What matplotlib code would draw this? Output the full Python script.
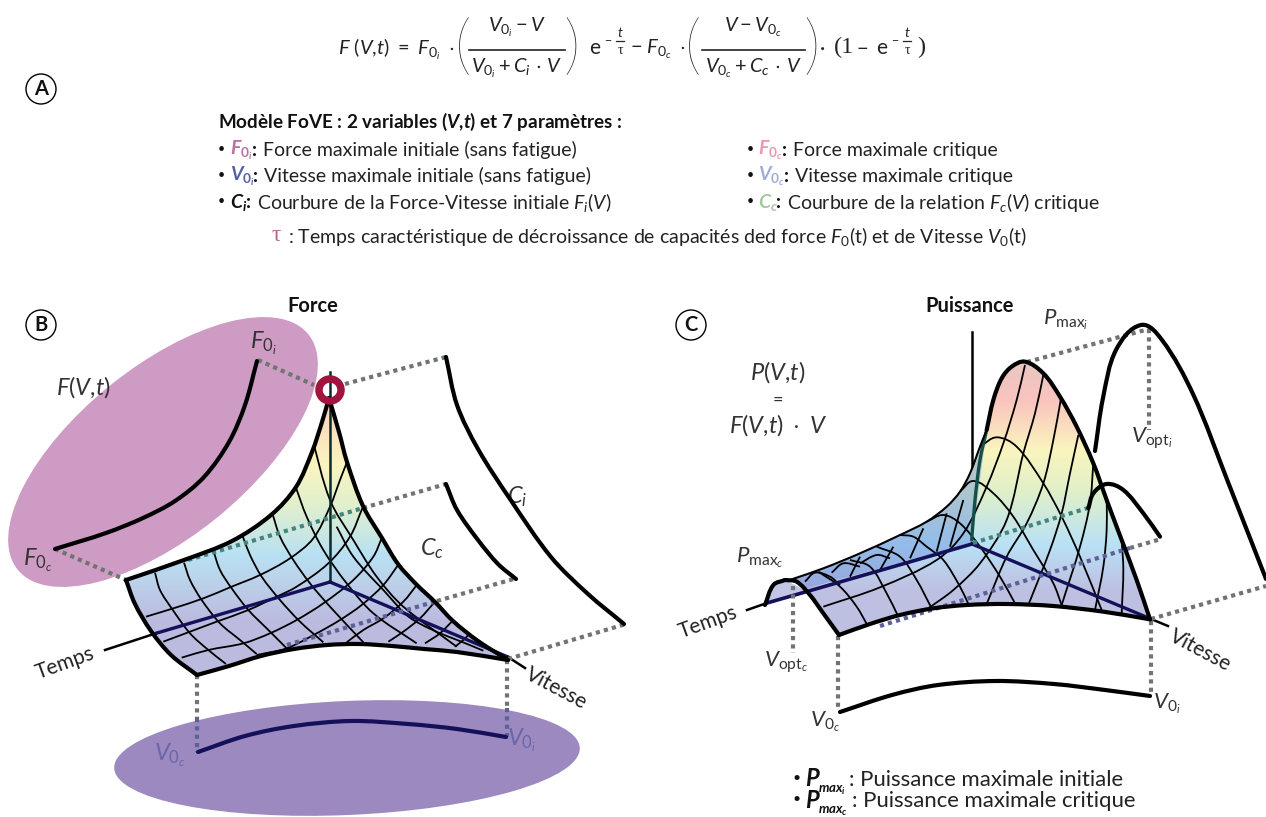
import matplotlib
matplotlib.use("Agg")
import matplotlib.pyplot as plt
import numpy as np
from matplotlib.patches import Circle, Ellipse, PathPatch
from matplotlib.path import Path

plt.rcParams['font.family'] = ['Lato', 'DejaVu Sans']
plt.rcParams['mathtext.fontset'] = 'custom'
plt.rcParams['mathtext.rm'] = 'Lato'
plt.rcParams['mathtext.it'] = 'Lato:italic'
plt.rcParams['mathtext.bf'] = 'Lato:bold'
plt.rcParams['mathtext.bfit'] = 'Lato:italic:bold'
plt.rcParams['mathtext.fallback'] = 'stix'

# panel B, read in picture pixels
b_left_top = [(126, 580), (184, 560), (232, 541), (271, 515), (296, 487), (312, 452), (322, 422), (329, 398)]
b_apex_right = [(329, 398), (339, 432), (347, 462), (363, 506), (382, 538), (398, 564), (416, 584), (435, 602),
                (453, 621), (478, 641), (508, 660)]
b_front = [(197, 675), (229, 666), (261, 656), (294, 649), (327, 645), (359, 644), (392, 646), (424, 649),
           (457, 652), (508, 660)]
b_left_front = [(126, 580), (135, 604), (151, 631), (171, 655), (197, 675)]
b_force_curve = [(55, 549), (106, 533), (143, 518), (175, 501), (204, 477), (229, 442), (245, 405), (257, 361)]
b_ci_curve = [(446, 357), (457, 405), (478, 449), (510, 499), (551, 557), (588, 594), (624, 624)]
b_cc_curve = [(446, 484), (457, 510), (478, 540), (498, 564), (516, 579)]
b_speed_curve = [(198, 752), (245, 736), (294, 726), (351, 721), (408, 724), (457, 729), (506, 737)]

# grid of panel B, read in the 3x crop at (120, 480)
b_grid = [
    [(105, 278), (120, 330), (155, 385), (210, 460), (265, 510), (318, 552)],
    [(192, 248), (210, 300), (245, 360), (300, 430), (360, 480), (410, 522)],
    [(280, 212), (300, 270), (335, 325), (385, 390), (445, 450), (500, 505)],
    [(368, 168), (390, 225), (425, 290), (480, 360), (540, 425), (610, 487)],
    [(457, 100), (480, 170), (520, 240), (570, 310), (630, 380), (730, 487)],
    [(525, 15), (560, 110), (610, 210), (680, 310), (760, 400), (890, 490)],
    [(575, -130), (630, 60), (700, 180), (770, 290), (850, 380), (1010, 500)],
    [(650, 140), (700, 230), (790, 330), (880, 420), (1090, 512)],
    [(78, 410), (160, 385), (250, 355), (330, 322), (420, 285), (510, 235), (580, 175), (630, 80), (660, 0), (681, -54)],
    [(130, 485), (210, 455), (290, 425), (385, 390), (470, 350), (530, 320), (625, 250), (690, 170), (727, 85)],
    [(185, 533), (265, 510), (370, 490), (450, 460), (530, 420), (610, 370), (700, 300), (760, 230), (785, 175)],
    [(410, 525), (500, 505), (590, 460), (660, 420), (725, 375), (790, 315), (838, 250)],
    [(680, 487), (730, 450), (790, 415), (850, 365), (892, 313)],
    [(805, 485), (850, 455), (900, 415), (945, 365)],
    [(915, 490), (960, 460), (1000, 420)],
    [(1005, 500), (1030, 480), (1050, 460)],
]

b_gradient_y = [395, 430, 465, 505, 555, 590, 620, 680]
b_gradient_rgb = [(250, 205, 190), (250, 225, 190), (250, 245, 190), (225, 240, 205), (185, 225, 243),
                  (188, 205, 232), (187, 187, 224), (187, 187, 224)]

# panel C, read in the 3x crop at (760, 350)
c_front = [(237, 855), (330, 822), (420, 795), (520, 775), (620, 765), (740, 762), (880, 768), (1030, 785), (1170, 808)]
c_profile = [(1170, 808), (1130, 690), (1085, 570), (1040, 450), (1000, 340), (950, 230), (900, 140), (850, 70),
             (795, 35), (755, 50), (725, 85), (700, 150), (680, 240)]
c_back = [(680, 240), (660, 290), (630, 370), (600, 425), (560, 470), (500, 515), (420, 555), (300, 610), (190, 655), (95, 688)]
c_hump_front = [(75, 690), (110, 695), (150, 735), (190, 790), (237, 855)]
c_hump_left = [(15, 765), (40, 705), (75, 690)]
c_wedge_floor = [(635, 578), (130, 718)]

c_arcs = [
    [(660, 290), (710, 262), (770, 290), (850, 400), (905, 500), (960, 620), (1025, 780)],
    [(600, 425), (640, 393), (700, 430), (760, 500), (820, 600), (880, 700), (905, 765)],
    [(500, 515), (550, 495), (600, 520), (660, 590), (720, 680), (765, 760)],
    [(420, 555), (460, 560), (500, 590), (550, 630), (600, 710), (625, 762)],
    [(350, 590), (420, 620), (470, 690), (515, 775)],
    [(270, 630), (330, 650), (380, 730), (415, 800)],
    [(175, 665), (240, 710), (290, 770), (322, 825)],
    [(135, 695), (165, 668), (210, 680), (240, 705)],
    [(215, 668), (250, 640), (300, 650)],
    [(300, 640), (350, 615), (390, 625)],
]
c_risers = [
    [(190, 770), (360, 712), (530, 630), (610, 550), (680, 410), (730, 280), (770, 150), (795, 45)],
    [(505, 775), (580, 720), (660, 640), (740, 510), (790, 310), (825, 190), (850, 75)],
    [(680, 762), (740, 620), (800, 520), (850, 400), (880, 270), (903, 145)],
    [(805, 765), (870, 600), (905, 490), (930, 370), (955, 255)],
    [(905, 765), (960, 590), (990, 460), (1000, 340)],
    [(1005, 780), (1030, 650), (1040, 540), (1040, 450)],
    [(1085, 790), (1090, 660), (1085, 570)],
    [(300, 620), (270, 680)],
    [(400, 590), (360, 660)],
    [(490, 535), (450, 625)],
    [(560, 490), (530, 605)],
    [(610, 450), (570, 590)],
]
c_green_stroke = [(680, 240), (660, 330), (645, 450), (635, 570)]
c_small_arch = [(985, 475), (1000, 430), (1040, 402), (1090, 420), (1150, 490), (1200, 560)]
c_big_arch = [(1095, 451), (1103, 398), (1116, 350), (1141, 325), (1162, 340), (1193, 394), (1228, 482), (1266, 579)]
c_speed_curve = [(840, 712), (892, 695), (938, 685), (996, 681), (1054, 684), (1105, 690), (1150, 696)]

c_gradient_y = [360, 400, 450, 490, 545, 590, 650]
c_gradient_rgb = [(232, 200, 195), (250, 195, 190), (250, 245, 190), (225, 240, 200), (185, 225, 245),
                  (190, 192, 226), (190, 192, 226)]

DOT_GREY = '#6f7570'
DOT_TEAL = '#46857f'
DOT_NAVY = '#5d6296'
NAVY = '#14105a'


def crop(points, x0, y0):
    return [(x0 + px / 3, y0 + py / 3) for px, py in points]


def bezier(points):
    """Cubic Path through the read points, handles a third of each segment."""
    p = np.array(points, dtype=float)
    n = len(p)
    if n == 2:
        return [p[0], p[0] + (p[1] - p[0]) / 3, p[1] - (p[1] - p[0]) / 3, p[1]], [Path.MOVETO] + [Path.CURVE4] * 3
    tan = np.zeros_like(p)
    tan[1:-1] = p[2:] - p[:-2]
    tan[0] = p[1] - p[0]
    tan[-1] = p[-1] - p[-2]
    tan = tan / np.hypot(tan[:, 0], tan[:, 1])[:, None]
    verts = [p[0]]
    for i in range(n - 1):
        h = np.hypot(*(p[i + 1] - p[i])) / 3
        verts.append(p[i] + tan[i] * h)
        verts.append(p[i + 1] - tan[i + 1] * h)
        verts.append(p[i + 1])
    codes = [Path.MOVETO] + [Path.CURVE4] * (len(verts) - 1)
    return verts, codes


def curve(ax, points, lw=3.0, color='black', z=5):
    verts, codes = bezier(points)
    ax.add_patch(PathPatch(Path(verts, codes), fill=False, lw=lw, ec=color, capstyle='round', joinstyle='round', zorder=z))


def outline(parts):
    verts, codes = [], []
    for part in parts:
        v, c = bezier(part)
        if verts:
            c = [Path.LINETO] + c[1:]
        verts += v
        codes += c
    verts.append(verts[0])
    codes.append(Path.CLOSEPOLY)
    return Path(verts, codes)


def gradient_fill(ax, path, ys, rgb, z=2):
    y = np.arange(min(ys), max(ys) + 1)
    col = np.stack([np.interp(y, ys, [c[k] / 255 for c in rgb]) for k in range(3)], axis=1)
    im = ax.imshow(col[:, None, :], extent=(0, 1266, max(ys), min(ys)), aspect='auto', zorder=z, interpolation='bilinear')
    im.set_clip_path(PathPatch(path, transform=ax.transData))


def dotted(ax, a, b, color=DOT_GREY, z=4):
    ax.plot([a[0], b[0]], [a[1], b[1]], color=color, lw=3.0, ls=(0, (1, 1)), zorder=z, solid_capstyle='butt')


def badge(ax, x, y, letter):
    ax.add_patch(Circle((x, y), 15, fc='white', ec='black', lw=1.0))
    ax.text(x, y, letter, ha='center', va='center', fontsize=14.5, fontweight='bold', color='#111111')


def exp_block(ax, x, color):
    # e with the -t/tau exponent, placed by hand
    ax.text(x, 48, 'e', fontsize=15, ha='center', va='center', color=color)
    ax.text(x + 13, 41, '−', fontsize=9, ha='center', va='center', color=color)
    ax.text(x + 25, 33, 't', fontsize=10, style='italic', ha='center', va='center', color=color)
    ax.plot([x + 21, x + 29], [41, 41], color=color, lw=0.9)
    ax.text(x + 25, 50, 'τ', fontsize=10, family='Liberation Serif', ha='center', va='center', color=color)


fig = plt.figure(figsize=(12.66, 8.17), dpi=100)
ax = fig.add_axes([0, 0, 1, 1])

# panel A, formula
fs = 14.5
INK = '#222222'
ax.text(338, 49, r'$F\ (V{,}t)\ =\ F_{0_i}\ \cdot$', fontsize=fs, va='center', color=INK)
ax.text(463, 49, '(', fontsize=47, fontweight='light', ha='center', va='center', color=INK)
ax.plot([469, 565], [50, 50], color=INK, lw=1.2)
ax.text(517, 27, r'$V_{0_i} - V$', fontsize=fs, ha='center', va='center', color=INK)
ax.text(517, 68, r'$V_{0_i} + C_i\,\cdot\,V$', fontsize=fs, ha='center', va='center', color=INK)
ax.text(572, 49, ')', fontsize=47, fontweight='light', ha='center', va='center', color=INK)
exp_block(ax, 595, INK)
ax.text(630, 49, r'$-\ F_{0_c}\ \cdot$', fontsize=fs, va='center', color=INK)
ax.text(693, 49, '(', fontsize=47, fontweight='light', ha='center', va='center', color=INK)
ax.plot([702, 805], [50, 50], color=INK, lw=1.2)
ax.text(753, 27, r'$V - V_{0_c}$', fontsize=fs, ha='center', va='center', color=INK)
ax.text(753, 68, r'$V_{0_c} + C_c\,\cdot\,V$', fontsize=fs, ha='center', va='center', color=INK)
ax.text(812, 49, ')', fontsize=47, fontweight='light', ha='center', va='center', color=INK)
ax.text(820, 48, '·', fontsize=fs, va='center', color=INK)
ax.text(834, 47, '(1', fontsize=fs + 3, va='center', family='Liberation Serif', color=INK)
ax.text(857, 49, '−', fontsize=fs, va='center', color=INK)
exp_block(ax, 882, INK)
ax.text(925, 47, ')', fontsize=fs + 3, va='center', ha='right', family='Liberation Serif', color=INK)

badge(ax, 41, 89, 'A')
bs = 14
ax.text(218, 122, r'Modèle FoVE : 2 variables ($\mathbfit{V}$,$\mathbfit{t}$) et 7 paramètres :',
        fontsize=13.6, fontweight='bold', va='center', color='#111111')

rows = [150, 176, 202]
left_syms = [r'$\mathbfit{F}_{\mathbf{0}_{\mathbfit{i}}}$', r'$\mathbfit{V}_{\mathbf{0}_{\mathbfit{i}}}$', r'$\mathbfit{C}_{\mathbfit{i}}$']
left_cols = ['#bd6ea0', '#565fa6', '#111111']
left_text = ['Force maximale initiale (sans fatigue)', 'Vitesse maximale initiale (sans fatigue)',
             r'Courbure de la Force-Vitesse initiale $F_i(V)$']
left_x = [263, 264, 257]
right_syms = [r'$\mathbfit{F}_{\mathbf{0}_{\mathbfit{c}}}$', r'$\mathbfit{V}_{\mathbf{0}_{\mathbfit{c}}}$', r'$\mathbfit{C}_{\mathbfit{c}}$']
right_cols = ['#ec96ad', '#a2acd8', '#a5c8a0']
right_text = ['Force maximale critique', 'Vitesse maximale critique', r'Courbure de la relation $F_c(V)$ critique']
right_x = [782, 784, 776]
for i, y in enumerate(rows):
    ax.text(218, y - 1, '•', fontsize=9, va='center', color='#111111')
    ax.text(230, y, left_syms[i], fontsize=bs, va='center', color=left_cols[i])
    ax.text(left_x[i] - 11, y, ':', fontsize=bs, fontweight='bold', va='center', color='#111111')
    ax.text(left_x[i], y, left_text[i], fontsize=bs, va='center', color='#222222')
    ax.text(747, y - 1, '•', fontsize=9, va='center', color='#111111')
    ax.text(758, y, right_syms[i], fontsize=bs, va='center', color=right_cols[i])
    ax.text(right_x[i], y, ':', fontsize=bs, fontweight='bold', va='center', color='#111111')
    ax.text(right_x[i] + 11, y, right_text[i], fontsize=bs, va='center', color='#222222')
ax.text(272, 235, 'τ', fontsize=17, family='Liberation Serif', va='center', color='#b5648f')
ax.text(288, 236, r': Temps caractéristique de décroissance de capacités ded force $F_0$(t) et de Vitesse $V_0$(t)',
        fontsize=bs, va='center', color='#222222')

# panel B
badge(ax, 41, 325, 'B')
ax.text(313, 306, 'Force', fontsize=14.5, fontweight='bold', ha='center', va='center', color='#111111')
ax.add_patch(Ellipse((163, 452), 374, 170, angle=-39, fc='#cd9bc3', ec='none', zorder=1))
ax.add_patch(Ellipse((347, 758), 466, 114, angle=-2.5, fc='#9b89c0', ec='none', zorder=1))

b_path = outline([b_left_top, b_apex_right, b_front[::-1], b_left_front[::-1]])
gradient_fill(ax, b_path, b_gradient_y, b_gradient_rgb)
for line in b_grid:
    verts, codes = bezier(crop(line, 120, 480))
    patch = PathPatch(Path(verts, codes), fill=False, lw=1.3, ec='black', zorder=3)
    ax.add_patch(patch)
    patch.set_clip_path(PathPatch(b_path, transform=ax.transData))

ax.plot([330, 330], [372, 582], color='#0d2a2a', lw=1.8, zorder=4)
ax.plot([105, 157], [650, 633], color='black', lw=1.8, zorder=4)
ax.plot([157, 330], [633, 582], color=NAVY, lw=2.4, zorder=4)
ax.plot([330, 508], [582, 657], color=NAVY, lw=2.4, zorder=4)
ax.plot([508, 525], [657, 668], color='black', lw=1.8, zorder=4)

dotted(ax, (258, 360), (314, 385))
dotted(ax, (345, 384), (446, 357))
dotted(ax, (55, 549), (126, 580))
dotted(ax, (188, 560), (363, 508), DOT_TEAL)
dotted(ax, (363, 508), (446, 484))
dotted(ax, (287, 645), (437, 601), DOT_NAVY)
dotted(ax, (437, 601), (517, 578))
dotted(ax, (508, 659), (626, 624))
dotted(ax, (197, 675), (197, 718))
dotted(ax, (197, 718), (197, 752), DOT_NAVY)
dotted(ax, (507, 660), (507, 708))
dotted(ax, (507, 708), (507, 737), DOT_NAVY)

for part in (b_left_top, b_apex_right, b_front, b_left_front, b_force_curve, b_ci_curve, b_cc_curve):
    curve(ax, part, lw=3.0)
curve(ax, b_speed_curve, lw=3.0, color=NAVY)
ax.add_patch(Circle((330, 390), 11, fc='none', ec='#a0143f', lw=5.4, zorder=6))

ax.text(83, 387, r'$F(V{,}t)$', fontsize=17, ha='center', va='center', color='#333333')
ax.text(263, 343, r'$F_{0_i}$', fontsize=17, ha='center', va='center', color='#333333')
ax.text(38, 560, r'$F_{0_c}$', fontsize=17, ha='center', va='center', color='#333333')
ax.text(517, 497, r'$C_i$', fontsize=17, ha='center', va='center', color='#333333')
ax.text(432, 549, r'$C_c$', fontsize=17, ha='center', va='center', color='#333333')
ax.text(170, 755, r'$V_{0_c}$', fontsize=17, ha='center', va='center', color='#6a65a8')
ax.text(522, 740, r'$V_{0_i}$', fontsize=17, ha='center', va='center', color='#6a65a8')
ax.text(65, 663, 'Temps', fontsize=15, rotation=20, ha='center', va='center', color='#222222')
ax.text(556, 688, 'Vitesse', fontsize=15, rotation=-28, ha='center', va='center', color='#222222')

# panel C
badge(ax, 691, 325, 'C')
ax.text(970, 306, 'Puissance', fontsize=14.5, fontweight='bold', ha='center', va='center', color='#111111')
ax.plot([972, 972], [332, 545], color='black', lw=1.8, zorder=1)

c_path = outline([crop(p, 760, 350) for p in (c_front, c_profile, c_back, c_hump_front)])
gradient_fill(ax, c_path, c_gradient_y, c_gradient_rgb)
hump_path = outline([crop(c_hump_left, 760, 350), crop(c_wedge_floor[::-1], 760, 350)])
ax.add_patch(PathPatch(hump_path, fc='#c4c4e6', ec='none', zorder=2))
wedge_path = outline([crop(c_back, 760, 350), crop(c_wedge_floor[::-1], 760, 350)])
ax.add_patch(PathPatch(wedge_path, fc='#4f78d8', ec='none', alpha=0.35, zorder=2.5))

for line in c_arcs + c_risers:
    verts, codes = bezier(crop(line, 760, 350))
    patch = PathPatch(Path(verts, codes), fill=False, lw=1.3, ec='black', zorder=3)
    ax.add_patch(patch)
    patch.set_clip_path(PathPatch(c_path, transform=ax.transData))

curve(ax, crop(c_green_stroke, 760, 350), lw=2.4, color='#14504a', z=4)
ax.plot([747, 767], [610, 603], color='black', lw=1.8, zorder=4)
ax.plot([767, 972], [603, 544], color=NAVY, lw=2.6, zorder=4)
ax.plot([972, 1151], [544, 619], color=NAVY, lw=2.4, zorder=4)
ax.plot([1151, 1168], [619, 626], color='black', lw=1.8, zorder=4)

dotted(ax, (1027, 362), (1149, 329))
dotted(ax, (1149, 329), (1149, 430))
dotted(ax, (973, 543), (1088, 508), DOT_TEAL)
dotted(ax, (880, 626), (1130, 548), DOT_NAVY)
dotted(ax, (1130, 548), (1161, 539))
dotted(ax, (1151, 619), (1266, 586))
dotted(ax, (838, 636), (838, 710))
dotted(ax, (1151, 621), (1151, 695))
dotted(ax, (793, 586), (793, 653))

for part in (c_front, c_profile, c_hump_front, c_hump_left, c_small_arch):
    curve(ax, crop(part, 760, 350), lw=3.0)
curve(ax, crop(c_back, 760, 350), lw=1.5)
curve(ax, c_big_arch, lw=3.0)
curve(ax, c_speed_curve, lw=3.0)

ax.text(778, 372, r'$P(V{,}t)$', fontsize=17, ha='center', va='center', color='#333333')
ax.text(778, 400, '=', fontsize=13, ha='center', va='center', color='#333333')
ax.text(778, 425, r'$F(V{,}t)\ \cdot\ V$', fontsize=17, ha='center', va='center', color='#333333')
ax.text(1066, 320, r'$P_{\mathrm{max}_i}$', fontsize=16, ha='center', va='center', color='#333333')
ax.text(1152, 438, r'$V_{\mathrm{opt}_i}$', fontsize=16, ha='center', va='center', color='#333333')
ax.text(760, 558, r'$P_{\mathrm{max}_c}$', fontsize=16, ha='center', va='center', color='#333333')
ax.text(786, 662, r'$V_{\mathrm{opt}_c}$', fontsize=16, ha='center', va='center', color='#333333')
ax.text(825, 722, r'$V_{0_c}$', fontsize=16, ha='center', va='center', color='#333333')
ax.text(1167, 704, r'$V_{0_i}$', fontsize=16, ha='center', va='center', color='#333333')
ax.text(708, 622, 'Temps', fontsize=15, rotation=20, ha='center', va='center', color='#222222')
ax.text(1200, 650, 'Vitesse', fontsize=15, rotation=-28, ha='center', va='center', color='#222222')

ax.text(792, 778, '•', fontsize=10, va='center', color='#111111')
ax.text(805, 779, r'$\mathbfit{P}$', fontsize=17, va='center', color='#111111')
ax.text(818, 790, r'$\mathbfit{max}_{\mathbfit{i}}$', fontsize=9.5, va='center', color='#111111')
ax.text(849, 780, ': Puissance maximale initiale', fontsize=15.9, va='center', color='#222222')
ax.text(792, 799, '•', fontsize=10, va='center', color='#111111')
ax.text(805, 801, r'$\mathbfit{P}$', fontsize=17, va='center', color='#111111')
ax.text(818, 811, r'$\mathbfit{max}_{\mathbfit{c}}$', fontsize=9.5, va='center', color='#111111')
ax.text(852, 801, ': Puissance maximale critique', fontsize=15.9, va='center', color='#222222')

ax.set_xlim(0, 1266)
ax.set_ylim(817, 0)
ax.axis('off')
fig.savefig('out.png', dpi=100, facecolor='white')
